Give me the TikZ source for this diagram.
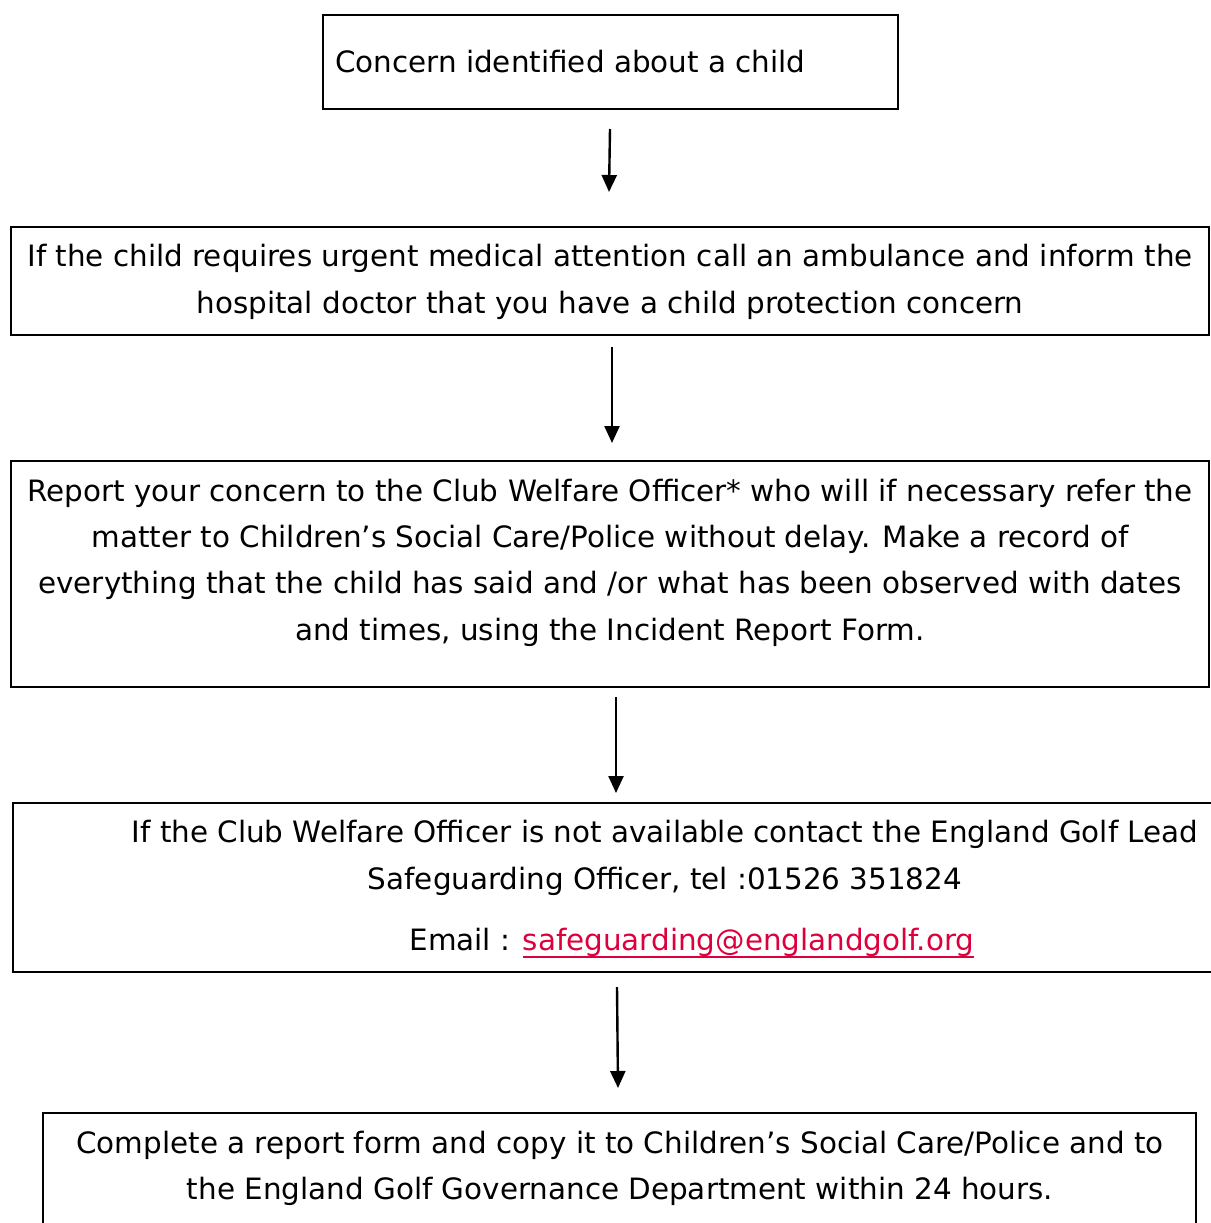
\documentclass[tikz,border=0pt]{standalone}
\usepackage{fontspec}
\setmainfont{DejaVu Sans}
\usetikzlibrary{arrows.meta}
\definecolor{linkred}{RGB}{220,0,60}
\newcommand\myunderline[1]{\leavevmode\setbox0\hbox{#1}\rlap{\vrule height -5pt depth 7.2pt width \wd0}\box0}
\tikzset{
  boxframe/.style={draw=black, line width=2.7pt, rectangle, inner sep=0pt},
  txt/.style={inner sep=0pt, align=center, font=\fontsize{29.4}{46.4}\selectfont},
  arr/.style={line width=2.4pt, -{Triangle[width=15pt,length=17pt]}}
}
\begin{document}
\begin{tikzpicture}[x=1pt,y=-1pt]
\useasboundingbox (0,0) rectangle (1210,1223);
% boxes
\node[boxframe, minimum width=575pt, minimum height=94pt] (b1) at (610.5,62) {};
\node[boxframe, minimum width=1198pt, minimum height=108pt] (b2) at (610,281) {};
\node[boxframe, minimum width=1198pt, minimum height=226pt] (b3) at (610,574) {};
\node[boxframe, minimum width=1210pt, minimum height=169pt] (b4) at (618,887.5) {};
\node[boxframe, minimum width=1153pt, minimum height=140pt] (b5) at (619.5,1183) {};
% texts
\node[txt, anchor=west] (t1) at (335,62) {Concern identified about a child};
\node[txt] (t2) at (610,282) {If the child requires urgent medical attention call an ambulance and inform the\\hospital doctor that you have a child protection concern};
\node[txt] (t3) at (610,562.5) {Report your concern to the Club Welfare Officer* who will if necessary refer the\\matter to Children’s Social Care/Police without delay. Make a record of\\everything that the child has said and /or what has been observed with dates\\and times, using the Incident Report Form.};
\node[txt] (t4) at (665,858) {If the Club Welfare Officer is not available contact the England Golf Lead\\Safeguarding Officer, tel :01526 351824};
\node[txt] (t4e) at (692,943) {Email : \textcolor{linkred}{\myunderline{safeguarding@englandgolf.org}}};
\node[txt] (t5) at (620,1168.5) {Complete a report form and copy it to Children’s Social Care/Police and to\\the England Golf Governance Department within 24 hours.};
% arrows
\coordinate (a1s) at (610,129); \coordinate (a1e) at (609,192);
\coordinate (a2s) at (612,347); \coordinate (a2e) at (612,443);
\coordinate (a3s) at (616,697); \coordinate (a3e) at (616,793);
\coordinate (a4s) at (617,987); \coordinate (a4e) at (618,1088);
\draw[arr] (a1s) -- (a1e);
\draw[arr] (a2s) -- (a2e);
\draw[arr] (a3s) -- (a3e);
\draw[arr] (a4s) -- (a4e);
\end{tikzpicture}
\end{document}
